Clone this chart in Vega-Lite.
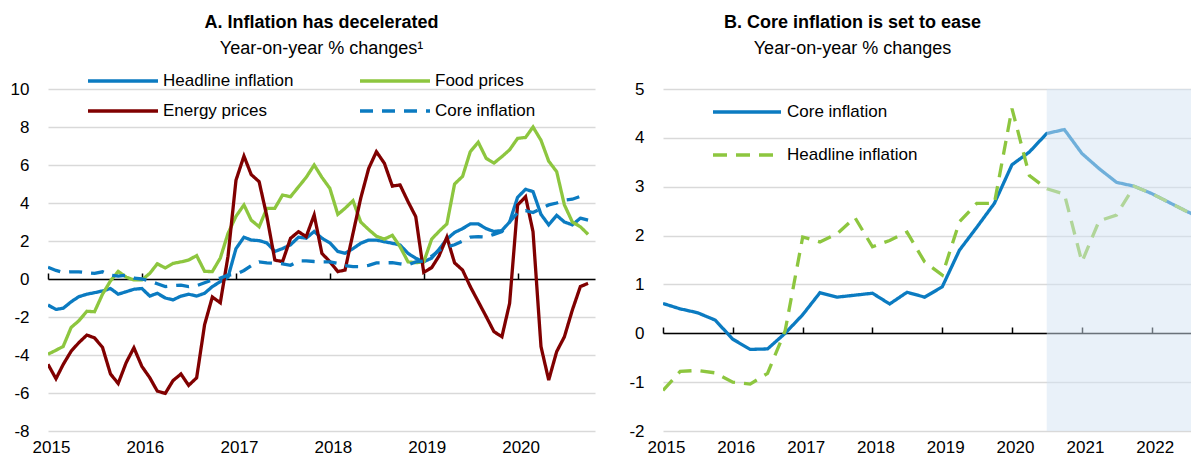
{
  "$schema": "https://vega.github.io/schema/vega-lite/v6.json",
  "padding": {"left": 10, "top": 14, "right": 0, "bottom": 0},
  "background": "white",
  "config": {
    "font": "Liberation Sans",
    "view": {"stroke": null},
    "axis": {"labelFont": "Liberation Sans", "labelFontSize": 17, "labelColor": "#000000", "gridColor": "#d9d9d9", "gridWidth": 1.5},
    "legend": {"labelFont": "Liberation Sans", "labelFontSize": 17, "labelColor": "#000000"},
    "title": {"font": "Liberation Sans"}
  },
  "datasets": {
    "panelA": [
      {"date": "2015-01-01", "Headline inflation": -1.37, "Food prices": -3.96, "Energy prices": -4.49, "Core inflation": 0.62},
      {"date": "2015-02-01", "Headline inflation": -1.6, "Food prices": -3.75, "Energy prices": -5.25, "Core inflation": 0.45},
      {"date": "2015-03-01", "Headline inflation": -1.54, "Food prices": -3.55, "Energy prices": -4.5, "Core inflation": 0.35},
      {"date": "2015-04-01", "Headline inflation": -1.2, "Food prices": -2.55, "Energy prices": -3.8, "Core inflation": 0.38},
      {"date": "2015-05-01", "Headline inflation": -0.93, "Food prices": -2.2, "Energy prices": -3.35, "Core inflation": 0.38},
      {"date": "2015-06-01", "Headline inflation": -0.8, "Food prices": -1.7, "Energy prices": -2.95, "Core inflation": 0.33},
      {"date": "2015-07-01", "Headline inflation": -0.72, "Food prices": -1.72, "Energy prices": -3.1, "Core inflation": 0.3},
      {"date": "2015-08-01", "Headline inflation": -0.63, "Food prices": -0.8, "Energy prices": -3.6, "Core inflation": 0.38},
      {"date": "2015-09-01", "Headline inflation": -0.5, "Food prices": -0.1, "Energy prices": -5.0, "Core inflation": 0.2},
      {"date": "2015-10-01", "Headline inflation": -0.8, "Food prices": 0.4, "Energy prices": -5.5, "Core inflation": 0.15},
      {"date": "2015-11-01", "Headline inflation": -0.67, "Food prices": 0.1, "Energy prices": -4.4, "Core inflation": 0.2},
      {"date": "2015-12-01", "Headline inflation": -0.54, "Food prices": -0.05, "Energy prices": -3.62, "Core inflation": 0.05},
      {"date": "2016-01-01", "Headline inflation": -0.5, "Food prices": -0.05, "Energy prices": -4.6, "Core inflation": 0.0},
      {"date": "2016-02-01", "Headline inflation": -0.9, "Food prices": 0.3, "Energy prices": -5.2, "Core inflation": -0.1},
      {"date": "2016-03-01", "Headline inflation": -0.75, "Food prices": 0.8, "Energy prices": -5.9, "Core inflation": -0.25},
      {"date": "2016-04-01", "Headline inflation": -1.0, "Food prices": 0.58, "Energy prices": -6.02, "Core inflation": -0.4},
      {"date": "2016-05-01", "Headline inflation": -1.1, "Food prices": 0.82, "Energy prices": -5.35, "Core inflation": -0.35},
      {"date": "2016-06-01", "Headline inflation": -0.9, "Food prices": 0.9, "Energy prices": -5.0, "Core inflation": -0.32},
      {"date": "2016-07-01", "Headline inflation": -0.8, "Food prices": 1.0, "Energy prices": -5.6, "Core inflation": -0.4},
      {"date": "2016-08-01", "Headline inflation": -0.9, "Food prices": 1.23, "Energy prices": -5.2, "Core inflation": -0.35},
      {"date": "2016-09-01", "Headline inflation": -0.75, "Food prices": 0.4, "Energy prices": -2.4, "Core inflation": -0.2},
      {"date": "2016-10-01", "Headline inflation": -0.4, "Food prices": 0.39, "Energy prices": -0.95, "Core inflation": -0.05},
      {"date": "2016-11-01", "Headline inflation": -0.14, "Food prices": 1.1, "Energy prices": -1.25, "Core inflation": 0.05},
      {"date": "2016-12-01", "Headline inflation": 0.1, "Food prices": 2.4, "Energy prices": 1.2, "Core inflation": 0.2},
      {"date": "2017-01-01", "Headline inflation": 1.6, "Food prices": 3.3, "Energy prices": 5.2, "Core inflation": 0.25},
      {"date": "2017-02-01", "Headline inflation": 2.2, "Food prices": 3.9, "Energy prices": 6.47, "Core inflation": 0.45},
      {"date": "2017-03-01", "Headline inflation": 2.05, "Food prices": 3.1, "Energy prices": 5.5, "Core inflation": 0.7},
      {"date": "2017-04-01", "Headline inflation": 2.02, "Food prices": 2.75, "Energy prices": 5.12, "Core inflation": 0.9},
      {"date": "2017-05-01", "Headline inflation": 1.9, "Food prices": 3.72, "Energy prices": 3.3, "Core inflation": 0.85},
      {"date": "2017-06-01", "Headline inflation": 1.45, "Food prices": 3.72, "Energy prices": 1.0, "Core inflation": 0.82},
      {"date": "2017-07-01", "Headline inflation": 1.6, "Food prices": 4.42, "Energy prices": 0.91, "Core inflation": 0.8},
      {"date": "2017-08-01", "Headline inflation": 1.8, "Food prices": 4.33, "Energy prices": 2.14, "Core inflation": 0.72},
      {"date": "2017-09-01", "Headline inflation": 2.2, "Food prices": 4.85, "Energy prices": 2.49, "Core inflation": 0.95},
      {"date": "2017-10-01", "Headline inflation": 2.15, "Food prices": 5.35, "Energy prices": 2.23, "Core inflation": 0.95},
      {"date": "2017-11-01", "Headline inflation": 2.5, "Food prices": 6.0, "Energy prices": 3.37, "Core inflation": 0.92},
      {"date": "2017-12-01", "Headline inflation": 2.15, "Food prices": 5.35, "Energy prices": 1.35, "Core inflation": 0.9},
      {"date": "2018-01-01", "Headline inflation": 1.9, "Food prices": 4.77, "Energy prices": 0.91, "Core inflation": 0.9},
      {"date": "2018-02-01", "Headline inflation": 1.45, "Food prices": 3.4, "Energy prices": 0.39, "Core inflation": 0.82},
      {"date": "2018-03-01", "Headline inflation": 1.35, "Food prices": 3.72, "Energy prices": 0.47, "Core inflation": 0.7},
      {"date": "2018-04-01", "Headline inflation": 1.6, "Food prices": 4.12, "Energy prices": 2.4, "Core inflation": 0.65},
      {"date": "2018-05-01", "Headline inflation": 1.88, "Food prices": 3.0, "Energy prices": 4.25, "Core inflation": 0.65},
      {"date": "2018-06-01", "Headline inflation": 2.05, "Food prices": 2.6, "Energy prices": 5.82, "Core inflation": 0.72},
      {"date": "2018-07-01", "Headline inflation": 2.05, "Food prices": 2.25, "Energy prices": 6.7, "Core inflation": 0.85},
      {"date": "2018-08-01", "Headline inflation": 1.96, "Food prices": 2.1, "Energy prices": 6.09, "Core inflation": 0.85},
      {"date": "2018-09-01", "Headline inflation": 1.88, "Food prices": 2.3, "Energy prices": 4.89, "Core inflation": 0.86},
      {"date": "2018-10-01", "Headline inflation": 1.79, "Food prices": 1.7, "Energy prices": 4.95, "Core inflation": 0.8},
      {"date": "2018-11-01", "Headline inflation": 1.35, "Food prices": 0.9, "Energy prices": 4.07, "Core inflation": 0.74},
      {"date": "2018-12-01", "Headline inflation": 1.09, "Food prices": 0.86, "Energy prices": 3.28, "Core inflation": 0.9},
      {"date": "2019-01-01", "Headline inflation": 0.91, "Food prices": 0.9, "Energy prices": 0.35, "Core inflation": 0.95},
      {"date": "2019-02-01", "Headline inflation": 1.1, "Food prices": 2.1, "Energy prices": 0.6, "Core inflation": 1.2},
      {"date": "2019-03-01", "Headline inflation": 1.55, "Food prices": 2.5, "Energy prices": 1.2, "Core inflation": 1.5},
      {"date": "2019-04-01", "Headline inflation": 2.1, "Food prices": 2.9, "Energy prices": 2.2, "Core inflation": 1.7},
      {"date": "2019-05-01", "Headline inflation": 2.45, "Food prices": 5.0, "Energy prices": 0.85, "Core inflation": 1.8},
      {"date": "2019-06-01", "Headline inflation": 2.65, "Food prices": 5.4, "Energy prices": 0.47, "Core inflation": 2.0},
      {"date": "2019-07-01", "Headline inflation": 2.9, "Food prices": 6.7, "Energy prices": -0.4, "Core inflation": 2.2},
      {"date": "2019-08-01", "Headline inflation": 2.9, "Food prices": 7.2, "Energy prices": -1.19, "Core inflation": 2.23},
      {"date": "2019-09-01", "Headline inflation": 2.65, "Food prices": 6.35, "Energy prices": -1.98, "Core inflation": 2.2},
      {"date": "2019-10-01", "Headline inflation": 2.5, "Food prices": 6.1, "Energy prices": -2.77, "Core inflation": 2.35},
      {"date": "2019-11-01", "Headline inflation": 2.55, "Food prices": 6.44, "Energy prices": -3.04, "Core inflation": 2.5},
      {"date": "2019-12-01", "Headline inflation": 3.0, "Food prices": 6.8, "Energy prices": -1.28, "Core inflation": 3.0},
      {"date": "2020-01-01", "Headline inflation": 4.3, "Food prices": 7.4, "Energy prices": 3.89, "Core inflation": 3.5},
      {"date": "2020-02-01", "Headline inflation": 4.72, "Food prices": 7.45, "Energy prices": 4.33, "Core inflation": 3.6},
      {"date": "2020-03-01", "Headline inflation": 4.6, "Food prices": 8.0, "Energy prices": 2.49, "Core inflation": 3.5},
      {"date": "2020-04-01", "Headline inflation": 3.4, "Food prices": 7.3, "Energy prices": -3.56, "Core inflation": 3.7},
      {"date": "2020-05-01", "Headline inflation": 2.85, "Food prices": 6.2, "Energy prices": -5.32, "Core inflation": 3.9},
      {"date": "2020-06-01", "Headline inflation": 3.35, "Food prices": 5.65, "Energy prices": -3.82, "Core inflation": 4.0},
      {"date": "2020-07-01", "Headline inflation": 3.0, "Food prices": 3.9, "Energy prices": -3.04, "Core inflation": 4.15},
      {"date": "2020-08-01", "Headline inflation": 2.85, "Food prices": 3.0, "Energy prices": -1.63, "Core inflation": 4.2},
      {"date": "2020-09-01", "Headline inflation": 3.2, "Food prices": 2.75, "Energy prices": -0.4, "Core inflation": 4.35},
      {"date": "2020-10-01", "Headline inflation": 3.1, "Food prices": 2.35, "Energy prices": -0.23, "Core inflation": 4.4}
    ],
    "panelB": [
      {"date": "2015-01-01", "Core inflation": 0.61, "Headline inflation": -1.17},
      {"date": "2015-04-01", "Core inflation": 0.5, "Headline inflation": -0.78},
      {"date": "2015-07-01", "Core inflation": 0.42, "Headline inflation": -0.76},
      {"date": "2015-10-01", "Core inflation": 0.27, "Headline inflation": -0.81},
      {"date": "2016-01-01", "Core inflation": -0.12, "Headline inflation": -1.0},
      {"date": "2016-04-01", "Core inflation": -0.33, "Headline inflation": -1.04},
      {"date": "2016-07-01", "Core inflation": -0.32, "Headline inflation": -0.82},
      {"date": "2016-10-01", "Core inflation": 0.0, "Headline inflation": 0.05},
      {"date": "2017-01-01", "Core inflation": 0.38, "Headline inflation": 1.97},
      {"date": "2017-04-01", "Core inflation": 0.83, "Headline inflation": 1.87},
      {"date": "2017-07-01", "Core inflation": 0.74, "Headline inflation": 2.04},
      {"date": "2017-10-01", "Core inflation": 0.78, "Headline inflation": 2.37},
      {"date": "2018-01-01", "Core inflation": 0.82, "Headline inflation": 1.77},
      {"date": "2018-04-01", "Core inflation": 0.6, "Headline inflation": 1.9},
      {"date": "2018-07-01", "Core inflation": 0.84, "Headline inflation": 2.07},
      {"date": "2018-10-01", "Core inflation": 0.74, "Headline inflation": 1.46},
      {"date": "2019-01-01", "Core inflation": 0.95, "Headline inflation": 1.19},
      {"date": "2019-04-01", "Core inflation": 1.7, "Headline inflation": 2.28},
      {"date": "2019-07-01", "Core inflation": 2.17, "Headline inflation": 2.66},
      {"date": "2019-10-01", "Core inflation": 2.66, "Headline inflation": 2.66},
      {"date": "2020-01-01", "Core inflation": 3.45, "Headline inflation": 4.6},
      {"date": "2020-04-01", "Core inflation": 3.71, "Headline inflation": 3.23},
      {"date": "2020-07-01", "Core inflation": 4.09, "Headline inflation": 2.96},
      {"date": "2020-10-01", "Core inflation": 4.17, "Headline inflation": 2.85},
      {"date": "2021-01-01", "Core inflation": 3.68, "Headline inflation": 1.46},
      {"date": "2021-04-01", "Core inflation": 3.37, "Headline inflation": 2.3},
      {"date": "2021-07-01", "Core inflation": 3.09, "Headline inflation": 2.42},
      {"date": "2021-10-01", "Core inflation": 3.01, "Headline inflation": 3.01},
      {"date": "2022-01-01", "Core inflation": 2.86, "Headline inflation": 2.86},
      {"date": "2022-04-01", "Core inflation": 2.68, "Headline inflation": 2.68},
      {"date": "2022-07-01", "Core inflation": 2.5, "Headline inflation": 2.5},
      {"date": "2022-10-01", "Core inflation": 2.33, "Headline inflation": 2.33}
    ],
    "projection": [
      {"start": "2020-07-01", "end": "2022-12-31"}
    ]
  },
  "spacing": 33,
  "hconcat": [
    {
      "width": 547,
      "height": 342,
      "title": {"text": "A. Inflation has decelerated", "subtitle": "Year-on-year % changes¹", "fontSize": 18, "fontWeight": "bold", "subtitleFontSize": 18, "subtitleFont": "Liberation Sans", "color": "#000000", "subtitleColor": "#000000", "anchor": "middle", "frame": "group", "offset": 13, "subtitlePadding": 8},
      "data": {"name": "panelA"},
      "transform": [{"fold": ["Headline inflation", "Food prices", "Energy prices", "Core inflation"], "as": ["series", "value"]}],
      "layer": [
        {
          "mark": {"type": "line", "strokeWidth": 3.3, "clip": true},
          "encoding": {
            "x": {"field": "date", "type": "temporal",
              "scale": {"domain": [{"year": 2015, "month": 1, "date": 1}, {"year": 2020, "month": 10, "date": 28}]},
              "axis": {"orient": "bottom", "values": [{"year": 2015}, {"year": 2016}, {"year": 2017}, {"year": 2018}, {"year": 2019}, {"year": 2020}], "format": "%Y", "domain": false, "ticks": false, "grid": false, "labelPadding": 8, "labelOffset": 3, "title": null, "labelFlush": false, "labelOverlap": false}},
            "y": {"field": "value", "type": "quantitative",
              "scale": {"domain": [-8, 10], "nice": false, "zero": false},
              "axis": {"values": [-8, -6, -4, -2, 0, 2, 4, 6, 8, 10], "labelExpr": "'' + datum.value", "grid": true, "domain": false, "ticks": false, "labelPadding": 19, "title": null}},
            "color": {"field": "series", "type": "nominal",
              "scale": {"domain": ["Headline inflation", "Energy prices", "Food prices", "Core inflation"], "range": ["#0b7bc1", "#800000", "#8dc63f", "#0b7bc1"]},
              "legend": {"orient": "none", "legendX": 38, "legendY": -18, "columns": 2, "title": null, "symbolType": "stroke", "symbolSize": 4900, "symbolStrokeWidth": 3.5, "clipHeight": 20, "columnPadding": 64, "rowPadding": 10, "labelOffset": 3}},
            "strokeDash": {"field": "series", "type": "nominal",
              "scale": {"domain": ["Headline inflation", "Energy prices", "Food prices", "Core inflation"], "range": [[1, 0], [1, 0], [1, 0], [13, 9]]},
              "legend": {"orient": "none", "legendX": 38, "legendY": -18, "columns": 2, "title": null, "symbolType": "stroke", "symbolSize": 4900, "symbolStrokeWidth": 3.5, "clipHeight": 20, "columnPadding": 64, "rowPadding": 10, "labelOffset": 3}}
          }
        },
        {
          "mark": {"type": "point", "opacity": 0},
          "encoding": {
            "x": {"field": "date", "type": "temporal",
              "axis": {"orient": "top", "offset": -190, "values": [{"year": 2015}, {"year": 2016}, {"year": 2017}, {"year": 2018}, {"year": 2019}, {"year": 2020}], "labels": false, "grid": false, "domain": true, "domainColor": "#000000", "domainWidth": 1.5, "ticks": true, "tickColor": "#000000", "tickSize": 6, "tickWidth": 1.5, "zindex": 0, "title": null}},
            "y": {"datum": 0, "type": "quantitative", "axis": null}
          }
        }
      ],
      "resolve": {"axis": {"x": "independent", "y": "independent"}}
    },
    {
      "width": 529,
      "height": 342,
      "title": {"text": "B. Core inflation is set to ease", "subtitle": "Year-on-year % changes", "fontSize": 18, "fontWeight": "bold", "subtitleFontSize": 18, "subtitleFont": "Liberation Sans", "color": "#000000", "subtitleColor": "#000000", "anchor": "middle", "frame": "group", "offset": 22, "dx": -75, "subtitlePadding": 8},
      "layer": [
        {
          "data": {"name": "panelB"},
          "transform": [{"fold": ["Core inflation", "Headline inflation"], "as": ["series", "value"]}],
          "mark": {"type": "line", "strokeWidth": 3.3, "clip": true},
          "encoding": {
            "x": {"field": "date", "type": "temporal",
              "scale": {"domain": [{"year": 2015, "month": 1, "date": 1}, {"year": 2022, "month": 7, "date": 31}]},
              "axis": {"orient": "bottom", "values": [{"year": 2015}, {"year": 2016}, {"year": 2017}, {"year": 2018}, {"year": 2019}, {"year": 2020}, {"year": 2021}, {"year": 2022}], "format": "%Y", "domain": false, "ticks": false, "grid": false, "labelPadding": 8, "labelOffset": 3, "title": null, "labelFlush": false, "labelOverlap": false}},
            "y": {"field": "value", "type": "quantitative",
              "scale": {"domain": [-2, 5], "nice": false, "zero": false},
              "axis": {"values": [-2, -1, 0, 1, 2, 3, 4, 5], "labelExpr": "'' + datum.value", "grid": true, "domain": false, "ticks": false, "labelPadding": 19, "title": null}},
            "color": {"field": "series", "type": "nominal",
              "scale": {"domain": ["Core inflation", "Headline inflation"], "range": ["#0b7bc1", "#8dc63f"]},
              "legend": {"orient": "none", "legendX": 48, "legendY": 13, "columns": 1, "title": null, "symbolType": "stroke", "symbolSize": 4624, "symbolStrokeWidth": 3.5, "clipHeight": 20, "rowPadding": 23, "labelOffset": 4}},
            "strokeDash": {"field": "series", "type": "nominal",
              "scale": {"domain": ["Core inflation", "Headline inflation"], "range": [[1, 0], [14, 9]]},
              "legend": {"orient": "none", "legendX": 48, "legendY": 13, "columns": 1, "title": null, "symbolType": "stroke", "symbolSize": 4624, "symbolStrokeWidth": 3.5, "clipHeight": 20, "rowPadding": 23, "labelOffset": 4}}
          }
        },
        {
          "data": {"name": "panelB"},
          "mark": {"type": "point", "opacity": 0},
          "encoding": {
            "x": {"field": "date", "type": "temporal",
              "axis": {"orient": "top", "offset": -244, "values": [{"year": 2015}, {"year": 2016}, {"year": 2017}, {"year": 2018}, {"year": 2019}, {"year": 2020}, {"year": 2021}, {"year": 2022}], "labels": false, "grid": false, "domain": true, "domainColor": "#000000", "domainWidth": 1.5, "ticks": true, "tickColor": "#000000", "tickSize": 6, "tickWidth": 1.5, "zindex": 0, "title": null}},
            "y": {"datum": 0, "type": "quantitative", "axis": null}
          }
        },
        {
          "data": {"name": "projection"},
          "mark": {"type": "rect", "color": "#d3e3f3", "opacity": 0.5, "clip": true},
          "encoding": {
            "x": {"field": "start", "type": "temporal", "axis": null},
            "x2": {"field": "end"}
          }
        }
      ],
      "resolve": {"axis": {"x": "independent", "y": "independent"}}
    }
  ],
  "resolve": {
    "scale": {"x": "independent", "y": "independent", "color": "independent", "strokeDash": "independent"},
    "legend": {"color": "independent", "strokeDash": "independent"}
  }
}
